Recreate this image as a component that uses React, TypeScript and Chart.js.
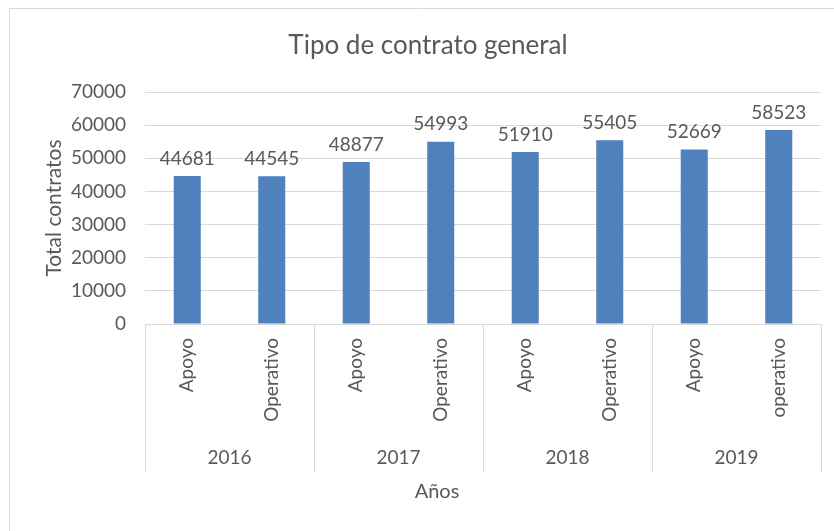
import React, { useEffect, useRef } from "react";
import { Chart, registerables } from "chart.js";

Chart.register(...registerables);

const years = ["2016", "2017", "2018", "2019"];
const subLabels = ["Apoyo", "Operativo", "Apoyo", "Operativo", "Apoyo", "Operativo", "Apoyo", "operativo"];
const totals = [44681, 44545, 48877, 54993, 51910, 55405, 52669, 58523];
const yTicks = [0, 10000, 20000, 30000, 40000, 50000, 60000, 70000];

const chartTitle = "Tipo de contrato general";
const yTitle = "Total contratos";
const xTitle = "Años";

const FONT = "Lato, 'Liberation Sans', sans-serif";
const TEXT = "#595959";
const GRID = "#d9d9d9";
const BAR = "#4f81bd";

const decorPlugin = {
  id: "decor",
  beforeDraw(chart: any) {
    const { ctx } = chart;
    ctx.save();
    ctx.strokeStyle = GRID;
    ctx.lineWidth = 1;
    ctx.beginPath();
    ctx.moveTo(9.5, 540);
    ctx.lineTo(9.5, 8.5);
    ctx.lineTo(840, 8.5);
    ctx.stroke();
    ctx.restore();
  },
  afterDraw(chart: any) {
    const { ctx, chartArea } = chart;
    const xs = chart.scales.x;
    const meta = chart.getDatasetMeta(0);
    ctx.save();
    // title
    ctx.fillStyle = TEXT;
    ctx.textAlign = "center";
    ctx.textBaseline = "middle";
    ctx.font = `26px ${FONT}`;
    ctx.fillText(chartTitle, 428, 46);
    // data labels
    ctx.font = `19px ${FONT}`;
    ctx.textBaseline = "bottom";
    meta.data.forEach((el: any, i: number) => {
      ctx.fillText(String(totals[i]), el.x, el.y - 8);
    });
    // group separators
    const n = subLabels.length;
    const cw = (chartArea.right - chartArea.left) / n;
    ctx.strokeStyle = GRID;
    ctx.lineWidth = 1;
    for (let g = 0; g <= years.length; g++) {
      const px = g * 2 < n ? xs.getPixelForValue(g * 2) - cw / 2 : xs.getPixelForValue(n - 1) + cw / 2;
      const x = Math.round(px) + 0.5;
      ctx.beginPath();
      ctx.moveTo(x, chartArea.bottom);
      ctx.lineTo(x, 472);
      ctx.stroke();
    }
    // year labels
    ctx.textBaseline = "middle";
    years.forEach((y, g) => {
      const cx = (xs.getPixelForValue(g * 2) + xs.getPixelForValue(g * 2 + 1)) / 2;
      ctx.fillText(y, cx, 458);
    });
    // x title
    ctx.font = `20px ${FONT}`;
    ctx.fillText(xTitle, 437, 492);
    ctx.restore();
  },
};

export default function App() {
  const ref = useRef<HTMLCanvasElement>(null);
  useEffect(() => {
    if (!ref.current) return;
    const chart = new Chart(ref.current, {
      type: "bar",
      data: {
        labels: subLabels,
        datasets: [
          {
            data: totals,
            backgroundColor: BAR,
            barPercentage: 0.32,
            categoryPercentage: 1,
          },
        ],
      },
      options: {
        animation: false,
        responsive: false,
        maintainAspectRatio: false,
        layout: { padding: { left: 0, right: 13, top: 92, bottom: 0 } },
        plugins: { legend: { display: false }, tooltip: { enabled: false }, title: { display: false } },
        scales: {
          x: {
            afterFit(scale: any) {
              scale.height = 531 - 324;
            },
            grid: { display: true, drawOnChartArea: false, drawTicks: false },
            border: { display: true, color: GRID },
            ticks: {
              color: TEXT,
              font: { family: FONT, size: 19 },
              minRotation: 90,
              maxRotation: 90,
              padding: 14,
              autoSkip: false,
            },
          },
          y: {
            min: 0,
            max: 70000,
            afterFit(scale: any) {
              scale.width = 145;
            },
            afterBuildTicks(scale: any) {
              scale.ticks = yTicks.map((v) => ({ value: v }));
            },
            grid: { color: GRID, drawTicks: false },
            border: { display: false },
            ticks: {
              color: TEXT,
              font: { family: FONT, size: 19 },
              padding: 19,
              callback: (v: any) => String(v),
            },
            title: {
              display: true,
              text: yTitle,
              color: TEXT,
              font: { family: FONT, size: 21 },
              padding: { top: 42, bottom: 0 },
            },
          },
        },
      },
      plugins: [decorPlugin],
    });
    return () => chart.destroy();
  }, []);
  return (
    <div style={{ position: "fixed", left: 0, top: 0, width: 834, height: 531, background: "#fff" }}>
      <canvas ref={ref} width={834} height={531} style={{ width: 834, height: 531, display: "block" }} />
    </div>
  );
}
